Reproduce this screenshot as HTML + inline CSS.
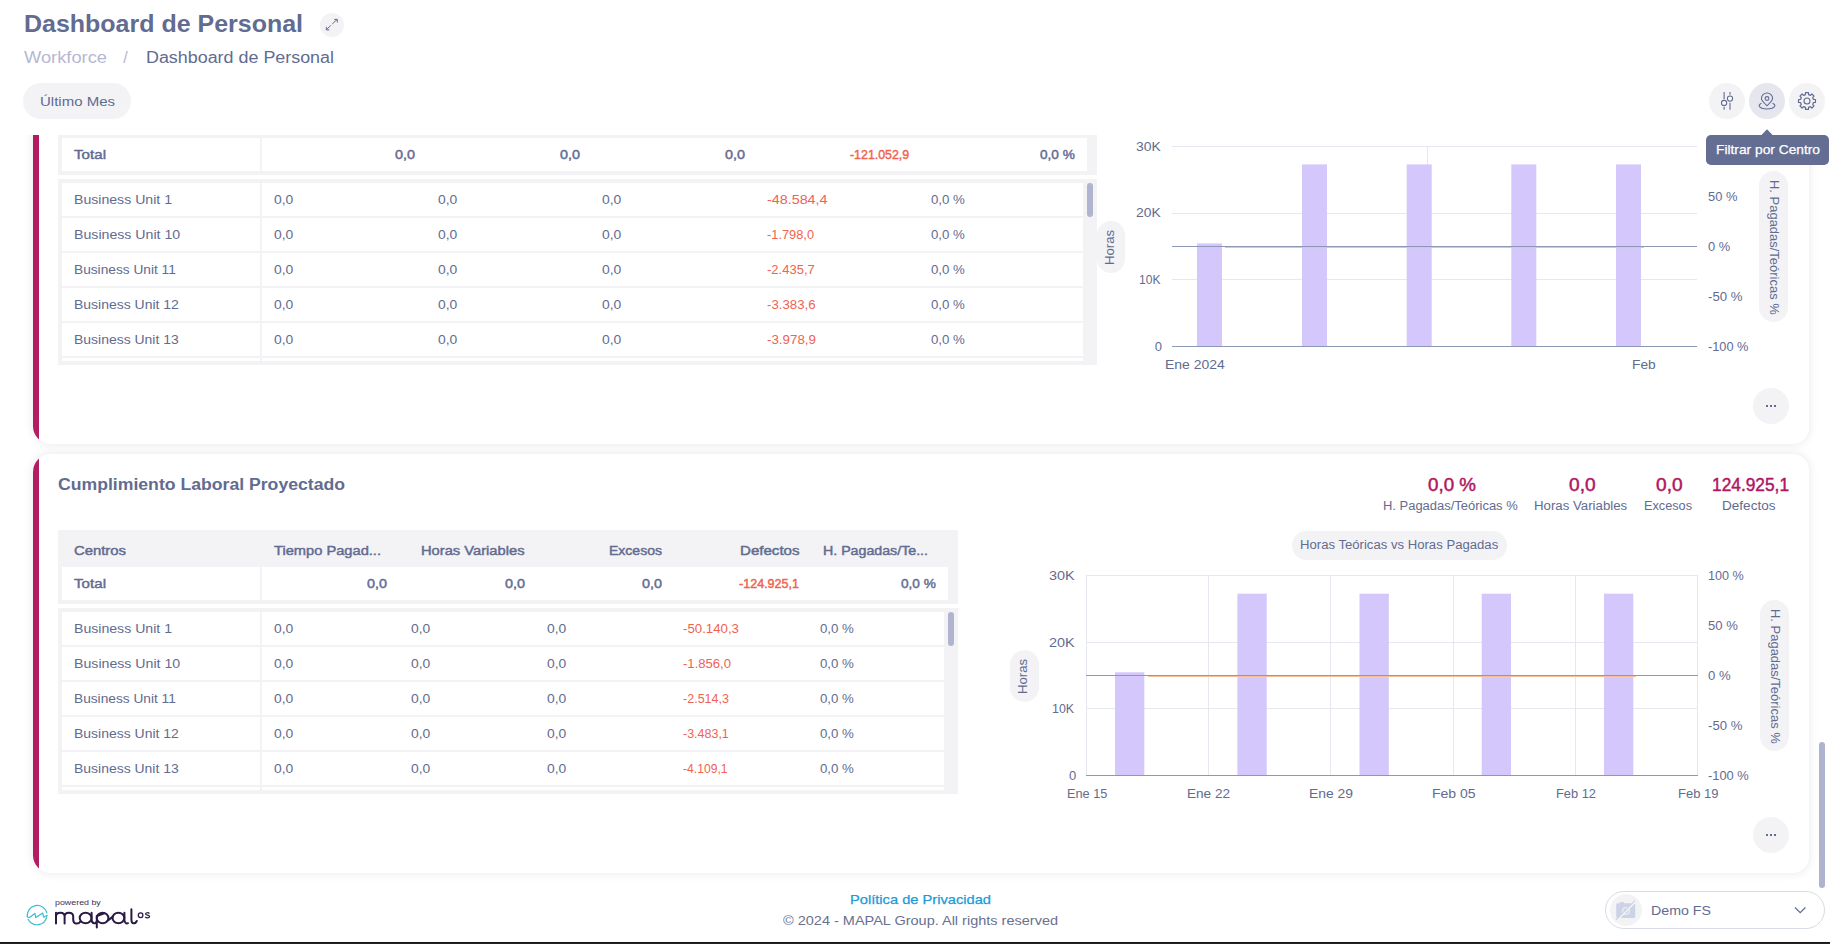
<!DOCTYPE html>
<html lang="es"><head><meta charset="utf-8"><title>Dashboard de Personal</title>
<style>

html,body{margin:0;padding:0;}
body{width:1830px;height:944px;overflow:hidden;position:relative;background:#fff;font-family:"Liberation Sans",sans-serif;color:#626b90;}
.t{position:absolute;white-space:pre;display:block;transform-origin:0 50%;}
.abs{position:absolute;}
.clip{position:absolute;left:0;top:135px;width:1830px;height:760px;overflow:hidden;}
.inner{position:absolute;left:0;top:-135px;width:1830px;height:944px;}
.card{position:absolute;left:33px;width:1776px;height:419px;background:#fff;border-radius:18px 16px 16px 18px;box-shadow:0 0 10px rgba(70,70,110,0.13);overflow:hidden;}
.card i{position:absolute;left:0;top:0;width:6px;height:100%;background:#b31b63;}
.g{position:absolute;background:#f3f3f6;}
.w{position:absolute;background:#fff;}
.pill{position:absolute;background:#f3f3f6;border-radius:20px;}
.circ{position:absolute;background:#f3f3f6;border-radius:50%;}
.thumb{position:absolute;background:#b1b4cf;border-radius:3px;}
svg{position:absolute;left:0;top:0;overflow:visible;}

</style></head><body>
<div class="clip"><div class="inner">
<div class="card" style="top:25px"><i></i></div>
<div class="card" style="top:454px"><i></i></div>
<div class="g" style="left:58px;top:101px;width:1039px;height:74px"></div>
<div class="w" style="left:62px;top:138px;width:198px;height:33px"></div>
<div class="w" style="left:262px;top:138px;width:825px;height:33px"></div>
<div class="g" style="left:58px;top:179px;width:1039px;height:186px"></div>
<div class="w" style="left:62px;top:183px;width:198px;height:33px"></div>
<div class="w" style="left:262px;top:183px;width:821px;height:33px"></div>
<div class="w" style="left:62px;top:218px;width:198px;height:33px"></div>
<div class="w" style="left:262px;top:218px;width:821px;height:33px"></div>
<div class="w" style="left:62px;top:253px;width:198px;height:33px"></div>
<div class="w" style="left:262px;top:253px;width:821px;height:33px"></div>
<div class="w" style="left:62px;top:288px;width:198px;height:33px"></div>
<div class="w" style="left:262px;top:288px;width:821px;height:33px"></div>
<div class="w" style="left:62px;top:323px;width:198px;height:33px"></div>
<div class="w" style="left:262px;top:323px;width:821px;height:33px"></div>
<div class="w" style="left:62px;top:358px;width:198px;height:3px"></div>
<div class="w" style="left:262px;top:358px;width:821px;height:3px"></div>
<div class="thumb" style="left:1087.2px;top:183px;width:6px;height:34px"></div>
<span class="t" style="left:74.20px;top:148.00px;font-size:13px;line-height:13px;-webkit-text-stroke:0.45px;letter-spacing:0.029px;transform:scaleX(1.1600);">Total</span>
<span class="t" style="left:395.30px;top:148.00px;font-size:13px;line-height:13px;-webkit-text-stroke:0.45px;transform:scaleX(1.1063);">0,0</span>
<span class="t" style="left:560.30px;top:148.00px;font-size:13px;line-height:13px;-webkit-text-stroke:0.45px;transform:scaleX(1.1063);">0,0</span>
<span class="t" style="left:725.30px;top:148.00px;font-size:13px;line-height:13px;-webkit-text-stroke:0.45px;transform:scaleX(1.1063);">0,0</span>
<span class="t" style="left:849.60px;top:148.00px;font-size:13px;line-height:13px;-webkit-text-stroke:0.45px;color:#ef6351;transform:scaleX(0.9522);">-121.052,9</span>
<span class="t" style="left:1039.80px;top:148.00px;font-size:13px;line-height:13px;-webkit-text-stroke:0.45px;transform:scaleX(1.0466);">0,0 %</span>
<span class="t" style="left:73.90px;top:193.00px;font-size:13px;line-height:13px;transform:scaleX(1.0849);">Business Unit 1</span>
<span class="t" style="left:274.30px;top:193.00px;font-size:13px;line-height:13px;transform:scaleX(1.0676);">0,0</span>
<span class="t" style="left:438.30px;top:193.00px;font-size:13px;line-height:13px;transform:scaleX(1.0676);">0,0</span>
<span class="t" style="left:602.40px;top:193.00px;font-size:13px;line-height:13px;transform:scaleX(1.0676);">0,0</span>
<span class="t" style="left:767.00px;top:193.00px;font-size:13px;line-height:13px;color:#ef6351;transform:scaleX(1.1013);">-48.584,4</span>
<span class="t" style="left:930.80px;top:193.00px;font-size:13px;line-height:13px;transform:scaleX(1.0195);">0,0 %</span>
<span class="t" style="left:73.90px;top:228.00px;font-size:13px;line-height:13px;transform:scaleX(1.0885);">Business Unit 10</span>
<span class="t" style="left:274.30px;top:228.00px;font-size:13px;line-height:13px;transform:scaleX(1.0676);">0,0</span>
<span class="t" style="left:438.30px;top:228.00px;font-size:13px;line-height:13px;transform:scaleX(1.0676);">0,0</span>
<span class="t" style="left:602.40px;top:228.00px;font-size:13px;line-height:13px;transform:scaleX(1.0676);">0,0</span>
<span class="t" style="left:767.00px;top:228.00px;font-size:13px;line-height:13px;color:#ef6351;transform:scaleX(0.9853);">-1.798,0</span>
<span class="t" style="left:930.80px;top:228.00px;font-size:13px;line-height:13px;transform:scaleX(1.0195);">0,0 %</span>
<span class="t" style="left:73.90px;top:263.00px;font-size:13px;line-height:13px;transform:scaleX(1.0539);">Business Unit 11</span>
<span class="t" style="left:274.30px;top:263.00px;font-size:13px;line-height:13px;transform:scaleX(1.0676);">0,0</span>
<span class="t" style="left:438.30px;top:263.00px;font-size:13px;line-height:13px;transform:scaleX(1.0676);">0,0</span>
<span class="t" style="left:602.40px;top:263.00px;font-size:13px;line-height:13px;transform:scaleX(1.0676);">0,0</span>
<span class="t" style="left:767.00px;top:263.00px;font-size:13px;line-height:13px;color:#ef6351;transform:scaleX(1.0020);">-2.435,7</span>
<span class="t" style="left:930.80px;top:263.00px;font-size:13px;line-height:13px;transform:scaleX(1.0195);">0,0 %</span>
<span class="t" style="left:73.90px;top:298.00px;font-size:13px;line-height:13px;transform:scaleX(1.0752);">Business Unit 12</span>
<span class="t" style="left:274.30px;top:298.00px;font-size:13px;line-height:13px;transform:scaleX(1.0676);">0,0</span>
<span class="t" style="left:438.30px;top:298.00px;font-size:13px;line-height:13px;transform:scaleX(1.0676);">0,0</span>
<span class="t" style="left:602.40px;top:298.00px;font-size:13px;line-height:13px;transform:scaleX(1.0676);">0,0</span>
<span class="t" style="left:767.00px;top:298.00px;font-size:13px;line-height:13px;color:#ef6351;transform:scaleX(1.0188);">-3.383,6</span>
<span class="t" style="left:930.80px;top:298.00px;font-size:13px;line-height:13px;transform:scaleX(1.0195);">0,0 %</span>
<span class="t" style="left:73.90px;top:333.00px;font-size:13px;line-height:13px;transform:scaleX(1.0732);">Business Unit 13</span>
<span class="t" style="left:274.30px;top:333.00px;font-size:13px;line-height:13px;transform:scaleX(1.0676);">0,0</span>
<span class="t" style="left:438.30px;top:333.00px;font-size:13px;line-height:13px;transform:scaleX(1.0676);">0,0</span>
<span class="t" style="left:602.40px;top:333.00px;font-size:13px;line-height:13px;transform:scaleX(1.0676);">0,0</span>
<span class="t" style="left:767.00px;top:333.00px;font-size:13px;line-height:13px;color:#ef6351;transform:scaleX(1.0272);">-3.978,9</span>
<span class="t" style="left:930.80px;top:333.00px;font-size:13px;line-height:13px;transform:scaleX(1.0195);">0,0 %</span>
<span class="t" style="left:58.30px;top:477.46px;font-size:16px;line-height:16px;font-weight:700;transform:scaleX(1.1018);">Cumplimiento Laboral Proyectado</span>
<span class="t" style="left:1427.90px;top:475.66px;font-size:18px;line-height:18px;-webkit-text-stroke:0.45px;color:#b0155f;transform:scaleX(1.0428);">0,0 %</span>
<span class="t" style="left:1382.75px;top:500.24px;font-size:12px;line-height:12px;transform:scaleX(1.0799);">H. Pagadas/Teóricas %</span>
<span class="t" style="left:1569.40px;top:475.66px;font-size:18px;line-height:18px;-webkit-text-stroke:0.45px;color:#b0155f;transform:scaleX(1.0627);">0,0</span>
<span class="t" style="left:1534.40px;top:500.24px;font-size:12px;line-height:12px;transform:scaleX(1.1032);">Horas Variables</span>
<span class="t" style="left:1656.40px;top:475.66px;font-size:18px;line-height:18px;-webkit-text-stroke:0.45px;color:#b0155f;transform:scaleX(1.0627);">0,0</span>
<span class="t" style="left:1644.00px;top:500.24px;font-size:12px;line-height:12px;transform:scaleX(1.0582);">Excesos</span>
<span class="t" style="left:1712.00px;top:475.66px;font-size:18px;line-height:18px;-webkit-text-stroke:0.45px;color:#b0155f;transform:scaleX(0.9616);">124.925,1</span>
<span class="t" style="left:1721.75px;top:500.24px;font-size:12px;line-height:12px;transform:scaleX(1.1297);">Defectos</span>
<div class="g" style="left:58px;top:530px;width:900px;height:74px"></div>
<div class="w" style="left:62px;top:567px;width:198px;height:33px"></div>
<div class="w" style="left:262px;top:567px;width:686px;height:33px"></div>
<div class="g" style="left:58px;top:608px;width:900px;height:186px"></div>
<div class="w" style="left:62px;top:612px;width:198px;height:33px"></div>
<div class="w" style="left:262px;top:612px;width:682px;height:33px"></div>
<div class="w" style="left:62px;top:647px;width:198px;height:33px"></div>
<div class="w" style="left:262px;top:647px;width:682px;height:33px"></div>
<div class="w" style="left:62px;top:682px;width:198px;height:33px"></div>
<div class="w" style="left:262px;top:682px;width:682px;height:33px"></div>
<div class="w" style="left:62px;top:717px;width:198px;height:33px"></div>
<div class="w" style="left:262px;top:717px;width:682px;height:33px"></div>
<div class="w" style="left:62px;top:752px;width:198px;height:33px"></div>
<div class="w" style="left:262px;top:752px;width:682px;height:33px"></div>
<div class="w" style="left:62px;top:787px;width:198px;height:3px"></div>
<div class="w" style="left:262px;top:787px;width:682px;height:3px"></div>
<div class="thumb" style="left:948.2px;top:612px;width:6px;height:34px"></div>
<span class="t" style="left:74.30px;top:543.60px;font-size:13px;line-height:13px;-webkit-text-stroke:0.45px;transform:scaleX(1.1421);">Centros</span>
<span class="t" style="left:274.30px;top:543.60px;font-size:13px;line-height:13px;-webkit-text-stroke:0.45px;transform:scaleX(1.1274);">Tiempo Pagad...</span>
<span class="t" style="left:421.00px;top:543.60px;font-size:13px;line-height:13px;-webkit-text-stroke:0.45px;transform:scaleX(1.1308);">Horas Variables</span>
<span class="t" style="left:608.50px;top:543.60px;font-size:13px;line-height:13px;-webkit-text-stroke:0.45px;transform:scaleX(1.0785);">Excesos</span>
<span class="t" style="left:739.50px;top:543.60px;font-size:13px;line-height:13px;-webkit-text-stroke:0.45px;transform:scaleX(1.1596);">Defectos</span>
<span class="t" style="left:823.00px;top:543.60px;font-size:13px;line-height:13px;-webkit-text-stroke:0.45px;transform:scaleX(1.0923);">H. Pagadas/Te...</span>
<span class="t" style="left:74.20px;top:577.00px;font-size:13px;line-height:13px;-webkit-text-stroke:0.45px;letter-spacing:0.029px;transform:scaleX(1.1600);">Total</span>
<span class="t" style="left:367.30px;top:577.00px;font-size:13px;line-height:13px;-webkit-text-stroke:0.45px;transform:scaleX(1.1063);">0,0</span>
<span class="t" style="left:504.50px;top:577.00px;font-size:13px;line-height:13px;-webkit-text-stroke:0.45px;transform:scaleX(1.1063);">0,0</span>
<span class="t" style="left:641.50px;top:577.00px;font-size:13px;line-height:13px;-webkit-text-stroke:0.45px;transform:scaleX(1.1063);">0,0</span>
<span class="t" style="left:738.60px;top:577.00px;font-size:13px;line-height:13px;-webkit-text-stroke:0.45px;color:#ef6351;transform:scaleX(0.9651);">-124.925,1</span>
<span class="t" style="left:901.20px;top:577.00px;font-size:13px;line-height:13px;-webkit-text-stroke:0.45px;transform:scaleX(1.0466);">0,0 %</span>
<span class="t" style="left:73.90px;top:622.00px;font-size:13px;line-height:13px;transform:scaleX(1.0849);">Business Unit 1</span>
<span class="t" style="left:274.30px;top:622.00px;font-size:13px;line-height:13px;transform:scaleX(1.0676);">0,0</span>
<span class="t" style="left:410.50px;top:622.00px;font-size:13px;line-height:13px;transform:scaleX(1.0676);">0,0</span>
<span class="t" style="left:547.00px;top:622.00px;font-size:13px;line-height:13px;transform:scaleX(1.0676);">0,0</span>
<span class="t" style="left:683.30px;top:622.00px;font-size:13px;line-height:13px;color:#ef6351;transform:scaleX(1.0193);">-50.140,3</span>
<span class="t" style="left:819.70px;top:622.00px;font-size:13px;line-height:13px;transform:scaleX(1.0195);">0,0 %</span>
<span class="t" style="left:73.90px;top:657.00px;font-size:13px;line-height:13px;transform:scaleX(1.0885);">Business Unit 10</span>
<span class="t" style="left:274.30px;top:657.00px;font-size:13px;line-height:13px;transform:scaleX(1.0676);">0,0</span>
<span class="t" style="left:410.50px;top:657.00px;font-size:13px;line-height:13px;transform:scaleX(1.0676);">0,0</span>
<span class="t" style="left:547.00px;top:657.00px;font-size:13px;line-height:13px;transform:scaleX(1.0676);">0,0</span>
<span class="t" style="left:683.30px;top:657.00px;font-size:13px;line-height:13px;color:#ef6351;transform:scaleX(1.0062);">-1.856,0</span>
<span class="t" style="left:819.70px;top:657.00px;font-size:13px;line-height:13px;transform:scaleX(1.0195);">0,0 %</span>
<span class="t" style="left:73.90px;top:692.00px;font-size:13px;line-height:13px;transform:scaleX(1.0539);">Business Unit 11</span>
<span class="t" style="left:274.30px;top:692.00px;font-size:13px;line-height:13px;transform:scaleX(1.0676);">0,0</span>
<span class="t" style="left:410.50px;top:692.00px;font-size:13px;line-height:13px;transform:scaleX(1.0676);">0,0</span>
<span class="t" style="left:547.00px;top:692.00px;font-size:13px;line-height:13px;transform:scaleX(1.0676);">0,0</span>
<span class="t" style="left:683.30px;top:692.00px;font-size:13px;line-height:13px;color:#ef6351;transform:scaleX(0.9643);">-2.514,3</span>
<span class="t" style="left:819.70px;top:692.00px;font-size:13px;line-height:13px;transform:scaleX(1.0195);">0,0 %</span>
<span class="t" style="left:73.90px;top:727.00px;font-size:13px;line-height:13px;transform:scaleX(1.0752);">Business Unit 12</span>
<span class="t" style="left:274.30px;top:727.00px;font-size:13px;line-height:13px;transform:scaleX(1.0676);">0,0</span>
<span class="t" style="left:410.50px;top:727.00px;font-size:13px;line-height:13px;transform:scaleX(1.0676);">0,0</span>
<span class="t" style="left:547.00px;top:727.00px;font-size:13px;line-height:13px;transform:scaleX(1.0676);">0,0</span>
<span class="t" style="left:683.30px;top:727.00px;font-size:13px;line-height:13px;color:#ef6351;transform:scaleX(0.9601);">-3.483,1</span>
<span class="t" style="left:819.70px;top:727.00px;font-size:13px;line-height:13px;transform:scaleX(1.0195);">0,0 %</span>
<span class="t" style="left:73.90px;top:762.00px;font-size:13px;line-height:13px;transform:scaleX(1.0732);">Business Unit 13</span>
<span class="t" style="left:274.30px;top:762.00px;font-size:13px;line-height:13px;transform:scaleX(1.0676);">0,0</span>
<span class="t" style="left:410.50px;top:762.00px;font-size:13px;line-height:13px;transform:scaleX(1.0676);">0,0</span>
<span class="t" style="left:547.00px;top:762.00px;font-size:13px;line-height:13px;transform:scaleX(1.0676);">0,0</span>
<span class="t" style="left:683.30px;top:762.00px;font-size:13px;line-height:13px;color:#ef6351;transform:scaleX(0.9349);">-4.109,1</span>
<span class="t" style="left:819.70px;top:762.00px;font-size:13px;line-height:13px;transform:scaleX(1.0195);">0,0 %</span>
<svg width="1830" height="944" viewBox="0 0 1830 944" shape-rendering="crispEdges">
<rect x="1172" y="146" width="525" height="1" fill="#e7e7ef"/>
<rect x="1172" y="213" width="525" height="1" fill="#e7e7ef"/>
<rect x="1172" y="279" width="525" height="1" fill="#e7e7ef"/>
<rect x="1427" y="146" width="1" height="200" fill="#e7e7ef"/>
<rect x="1197.0" y="243.4" width="25" height="102.6" fill="#d3c7fb" shape-rendering="geometricPrecision"/>
<rect x="1302.0" y="164.4" width="25" height="181.6" fill="#d3c7fb" shape-rendering="geometricPrecision"/>
<rect x="1406.7" y="164.4" width="25" height="181.6" fill="#d3c7fb" shape-rendering="geometricPrecision"/>
<rect x="1511.3" y="164.4" width="25" height="181.6" fill="#d3c7fb" shape-rendering="geometricPrecision"/>
<rect x="1616.0" y="164.4" width="25" height="181.6" fill="#d3c7fb" shape-rendering="geometricPrecision"/>
<rect x="1172" y="346" width="525" height="1" fill="#8e97b5"/>
<rect x="1172" y="246" width="525" height="1" fill="#8e97b5"/>
<rect x="1225" y="247" width="419" height="1" fill="#f5c09a"/>
<rect x="1086" y="575" width="612" height="1" fill="#e7e7ef"/>
<rect x="1086" y="642" width="612" height="1" fill="#e7e7ef"/>
<rect x="1086" y="708" width="612" height="1" fill="#e7e7ef"/>
<rect x="1086" y="575" width="1" height="200" fill="#e7e7ef"/>
<rect x="1208" y="575" width="1" height="200" fill="#e7e7ef"/>
<rect x="1330" y="575" width="1" height="200" fill="#e7e7ef"/>
<rect x="1453" y="575" width="1" height="200" fill="#e7e7ef"/>
<rect x="1575" y="575" width="1" height="200" fill="#e7e7ef"/>
<rect x="1697" y="575" width="1" height="200" fill="#e7e7ef"/>
<rect x="1115.0" y="672.3" width="29.3" height="102.7" fill="#d3c7fb" shape-rendering="geometricPrecision"/>
<rect x="1237.4" y="593.7" width="29.3" height="181.3" fill="#d3c7fb" shape-rendering="geometricPrecision"/>
<rect x="1359.5" y="593.7" width="29.3" height="181.3" fill="#d3c7fb" shape-rendering="geometricPrecision"/>
<rect x="1481.7" y="593.7" width="29.3" height="181.3" fill="#d3c7fb" shape-rendering="geometricPrecision"/>
<rect x="1604.0" y="593.7" width="29.3" height="181.3" fill="#d3c7fb" shape-rendering="geometricPrecision"/>
<rect x="1086" y="775" width="612" height="1" fill="#8e97b5"/>
<rect x="1086" y="675" width="612" height="1" fill="#8e97b5"/>
<rect x="1148" y="676" width="488" height="1" fill="#f5c09a"/>
</svg>
<span class="t" style="left:1135.80px;top:139.60px;font-size:13px;line-height:13px;transform:scaleX(1.0674);">30K</span>
<span class="t" style="left:1135.80px;top:206.30px;font-size:13px;line-height:13px;transform:scaleX(1.0674);">20K</span>
<span class="t" style="left:1139.00px;top:272.90px;font-size:13px;line-height:13px;transform:scaleX(0.9291);">10K</span>
<span class="t" style="left:1154.77px;top:339.60px;font-size:13px;line-height:13px;">0</span>
<span class="t" style="left:1707.50px;top:189.60px;font-size:13px;line-height:13px;transform:scaleX(0.9953);">50 %</span>
<span class="t" style="left:1707.50px;top:239.60px;font-size:13px;line-height:13px;transform:scaleX(0.9908);">0 %</span>
<span class="t" style="left:1707.50px;top:289.60px;font-size:13px;line-height:13px;transform:scaleX(1.0156);">-50 %</span>
<span class="t" style="left:1707.50px;top:339.60px;font-size:13px;line-height:13px;transform:scaleX(0.9829);">-100 %</span>
<span class="t" style="left:1707.50px;top:139.60px;font-size:13px;line-height:13px;transform:scaleX(0.9708);">100 %</span>
<span class="t" style="left:1165.20px;top:358.00px;font-size:13px;line-height:13px;transform:scaleX(1.0742);">Ene 2024</span>
<span class="t" style="left:1632.30px;top:358.00px;font-size:13px;line-height:13px;transform:scaleX(1.0577);">Feb</span>
<span class="t" style="left:1048.80px;top:569.10px;font-size:13px;line-height:13px;transform:scaleX(1.1106);">30K</span>
<span class="t" style="left:1048.80px;top:635.60px;font-size:13px;line-height:13px;transform:scaleX(1.1106);">20K</span>
<span class="t" style="left:1052.40px;top:702.20px;font-size:13px;line-height:13px;transform:scaleX(0.9550);">10K</span>
<span class="t" style="left:1069.07px;top:768.80px;font-size:13px;line-height:13px;">0</span>
<span class="t" style="left:1708.40px;top:569.10px;font-size:13px;line-height:13px;transform:scaleX(0.9708);">100 %</span>
<span class="t" style="left:1708.40px;top:619.00px;font-size:13px;line-height:13px;transform:scaleX(1.0054);">50 %</span>
<span class="t" style="left:1708.40px;top:668.90px;font-size:13px;line-height:13px;transform:scaleX(1.0086);">0 %</span>
<span class="t" style="left:1708.40px;top:718.80px;font-size:13px;line-height:13px;transform:scaleX(1.0127);">-50 %</span>
<span class="t" style="left:1708.40px;top:768.80px;font-size:13px;line-height:13px;transform:scaleX(0.9902);">-100 %</span>
<span class="t" style="left:1066.65px;top:786.60px;font-size:13px;line-height:13px;transform:scaleX(0.9781);">Ene 15</span>
<span class="t" style="left:1187.48px;top:786.60px;font-size:13px;line-height:13px;transform:scaleX(1.0436);">Ene 22</span>
<span class="t" style="left:1309.16px;top:786.60px;font-size:13px;line-height:13px;transform:scaleX(1.0679);">Ene 29</span>
<span class="t" style="left:1431.54px;top:786.60px;font-size:13px;line-height:13px;transform:scaleX(1.0770);">Feb 05</span>
<span class="t" style="left:1555.52px;top:786.60px;font-size:13px;line-height:13px;transform:scaleX(0.9880);">Feb 12</span>
<span class="t" style="left:1677.50px;top:786.60px;font-size:13px;line-height:13px;transform:scaleX(0.9979);">Feb 19</span>
<div class="pill" style="left:1292px;top:531px;width:215px;height:29px"></div>
<span class="t" style="left:1300.40px;top:538.72px;font-size:12.5px;line-height:12.5px;transform:scaleX(1.0501);">Horas Teóricas vs Horas Pagadas</span>
<div class="pill" style="left:1097.0px;top:221.0px;width:28.0px;height:52.0px"></div>
<div class="abs" style="left:1111.00px;top:247.00px;width:0;height:0;transform:rotate(-90deg)">
<span class="t" style="left:-17.60px;top:-6.98px;font-size:12.5px;line-height:12.5px;transform:scaleX(1.0557);">Horas</span>
</div>
<div class="pill" style="left:1759.0px;top:171.0px;width:28.7px;height:151.0px"></div>
<div class="abs" style="left:1773.35px;top:246.50px;width:0;height:0;transform:rotate(90deg)">
<span class="t" style="left:-67.40px;top:-6.98px;font-size:12.5px;line-height:12.5px;transform:scaleX(1.0374);">H. Pagadas/Teóricas %</span>
</div>
<div class="pill" style="left:1010.0px;top:650.0px;width:28.7px;height:52.0px"></div>
<div class="abs" style="left:1024.35px;top:676.00px;width:0;height:0;transform:rotate(-90deg)">
<span class="t" style="left:-17.60px;top:-6.58px;font-size:12.5px;line-height:12.5px;transform:scaleX(1.0557);">Horas</span>
</div>
<div class="pill" style="left:1760.0px;top:600.0px;width:28.7px;height:151.0px"></div>
<div class="abs" style="left:1774.35px;top:675.50px;width:0;height:0;transform:rotate(90deg)">
<span class="t" style="left:-67.40px;top:-7.08px;font-size:12.5px;line-height:12.5px;transform:scaleX(1.0374);">H. Pagadas/Teóricas %</span>
</div>
<div class="circ" style="left:1753px;top:388px;width:36px;height:36px"></div>
<svg width="1830" height="944" shape-rendering="crispEdges"><g fill="#626b90"><rect x="1766" y="405" width="2" height="2"/><rect x="1770" y="405" width="2" height="2"/><rect x="1774" y="405" width="2" height="2"/></g></svg>
<div class="circ" style="left:1753px;top:817px;width:36px;height:36px"></div>
<svg width="1830" height="944" shape-rendering="crispEdges"><g fill="#626b90"><rect x="1766" y="834" width="2" height="2"/><rect x="1770" y="834" width="2" height="2"/><rect x="1774" y="834" width="2" height="2"/></g></svg>
</div></div>
<span class="t" style="left:23.80px;top:12.18px;font-size:24px;line-height:24px;font-weight:700;transform:scaleX(1.0407);">Dashboard de Personal</span>
<div class="circ" style="left:320px;top:13px;width:24px;height:24px;background:#f3f3f6"></div>
<svg width="1830" height="944"><g stroke="#626b90" stroke-width="1" fill="none"><path d="M326.4 29.8 L330.9 25.3 M332.3 23.9 L337.2 19.4 M334.2 19.4 H337.3 V22.5 M326.3 26.8 V29.9 H329.4"/></g></svg>
<span class="t" style="left:23.80px;top:50.46px;font-size:16px;line-height:16px;color:#b5b8d0;transform:scaleX(1.1431);">Workforce</span>
<span class="t" style="left:123.30px;top:50.46px;font-size:16px;line-height:16px;color:#b5b8d0;">/</span>
<span class="t" style="left:146.00px;top:50.46px;font-size:16px;line-height:16px;transform:scaleX(1.1183);">Dashboard de Personal</span>
<div class="pill" style="left:23px;top:83px;width:108px;height:36px"></div>
<span class="t" style="left:39.50px;top:94.80px;font-size:13px;line-height:13px;transform:scaleX(1.1536);">Último Mes</span>
<div class="circ" style="left:1709px;top:83px;width:36px;height:36px"></div>
<div class="circ" style="left:1749px;top:83px;width:36px;height:36px;background:#e6e6ee"></div>
<div class="circ" style="left:1789px;top:83px;width:36px;height:36px"></div>
<svg width="1830" height="944"><g stroke="#626b90" stroke-width="1.1" fill="none">
<path d="M1724.1 92 V99.2 M1724.1 107 V109.8 M1730 92 V94.7 M1730 102.8 V109.8"/>
<circle cx="1724.1" cy="103" r="2.6" fill="#fdfdfe"/><circle cx="1730" cy="98.6" r="2.6" fill="#fdfdfe"/>
<path d="M1767 105.7 C1763.6 102.7 1761.4 100.8 1761.4 98.6 A5.6 5.6 0 0 1 1772.6 98.6 C1772.6 100.8 1770.4 102.7 1767 105.7 Z"/>
<circle cx="1767" cy="98.5" r="1.9"/>
<path d="M1761.5 103.2 C1756.5 105.5 1760 109 1767 109 C1774 109 1777.5 105.5 1772.5 103.2"/>
<circle cx="1807" cy="101" r="3"/>
</g></svg>
<svg width="1830" height="944"><path d="M1805.52 92.53 L1808.48 92.53 L1808.54 94.58 L1810.45 95.37 L1811.95 93.96 L1814.04 96.05 L1812.63 97.55 L1813.42 99.46 L1815.47 99.52 L1815.47 102.48 L1813.42 102.54 L1812.63 104.45 L1814.04 105.95 L1811.95 108.04 L1810.45 106.63 L1808.54 107.42 L1808.48 109.47 L1805.52 109.47 L1805.46 107.42 L1803.55 106.63 L1802.05 108.04 L1799.96 105.95 L1801.37 104.45 L1800.58 102.54 L1798.53 102.48 L1798.53 99.52 L1800.58 99.46 L1801.37 97.55 L1799.96 96.05 L1802.05 93.96 L1803.55 95.37 L1805.46 94.58 Z" stroke="#626b90" stroke-width="1.2" fill="none" stroke-linejoin="round"/></svg>
<div class="abs" style="left:1706px;top:135px;width:123px;height:30px;border-radius:5px;background:#646d92"></div>
<svg width="1830" height="944"><path d="M1761 135.5 L1767 129.2 L1773 135.5 Z" fill="#646d92"/></svg>
<span class="t" style="left:1715.60px;top:143.00px;font-size:13px;line-height:13px;-webkit-text-stroke:0.25px;color:#fff;transform:scaleX(1.0585);">Filtrar por Centro</span>
<span class="t" style="left:850.40px;top:893.10px;font-size:13px;line-height:13px;-webkit-text-stroke:0.25px;color:#1a9bd7;transform:scaleX(1.1279);">Política de Privacidad</span>
<span class="t" style="left:783.00px;top:914.00px;font-size:13px;line-height:13px;color:#687090;transform:scaleX(1.1153);">© 2024 - MAPAL Group. All rights reserved</span>
<div class="abs" style="left:1605px;top:891px;width:218px;height:36px;border:1px solid #d9dbe8;border-radius:19px"></div>
<div class="circ" style="left:1610px;top:894px;width:32px;height:32px;background:#f3f3f6"></div>
<svg width="1830" height="944">
<path d="M1617.7 903.3 H1619.6 L1620.2 902.1 H1623.6 L1624.2 903.3 H1633.7 Q1635.2 903.3 1635.2 904.8 V916.6 Q1635.2 918.1 1633.7 918.1 H1617.7 Q1616.2 918.1 1616.2 916.6 V904.8 Q1616.2 903.3 1617.7 903.3 Z" fill="#cdd3e6"/>
<circle cx="1626" cy="911" r="3.3" fill="none" stroke="#eceef6" stroke-width="1.3"/>
<path d="M1616.9 920.6 L1636.3 900.9" stroke="#f3f3f7" stroke-width="1.6"/>
<path d="M1616 919.8 L1635.2 900.3" stroke="#cdd3e6" stroke-width="1.1"/>
</svg>
<span class="t" style="left:1650.60px;top:904.20px;font-size:13px;line-height:13px;transform:scaleX(1.0928);">Demo FS</span>
<svg width="1830" height="944"><path d="M1795 907.5 L1800.2 912.7 L1805.4 907.5" stroke="#626b90" stroke-width="1.2" fill="none"/></svg>
<div class="abs" style="left:1819px;top:742px;width:6px;height:146px;border-radius:3px;background:#b0b3cf"></div>
<div class="abs" style="left:0;top:942px;width:1830px;height:1px;background:#181514"></div>
<div class="abs" style="left:0;top:943px;width:1830px;height:1px;background:#282322"></div>
<svg width="1830" height="944"><g fill="none" stroke="#3bbdd0" stroke-width="1.2" stroke-linecap="round" stroke-linejoin="round">
<path d="M27.3 916.6 A10 10 0 0 1 46.9 912.9"/>
<path d="M27.3 916.6 Q28.2 917.8 29.8 917.2 L34.9 913.4 L35.8 917.6 L42.7 913 L43.6 917.2 L47.3 915.3"/>
<path d="M28.1 919.3 A10 10 0 0 0 46.8 916.6"/>
</g>
<g fill="none" stroke="#2b1a45" stroke-width="2" stroke-linecap="round" stroke-linejoin="round">
<path d="M56 923.4 V912.8 M56 916.6 C56 911.6 64.6 911.6 64.6 916.6 V923.4 M64.6 916.6 C64.6 911.6 73.2 911.6 73.2 916.6 V919.6 C73.2 924.6 78.4 924.4 80.4 921.6"/>
<path d="M91.6 912.8 V919.2 C91.6 924.4 96 924.2 96.8 921.2"/>
<ellipse cx="85.6" cy="918" rx="5.9" ry="5.3"/>
<path d="M96.8 927.6 V916 L104.4 913.4"/>
<ellipse cx="102.6" cy="918" rx="5.8" ry="5.3"/>
<ellipse cx="118.4" cy="918" rx="5.9" ry="5.3"/>
<path d="M107.6 920.6 L113 916.6"/>
<path d="M124.4 912.8 V919.2 C124.4 923.4 126.6 923.8 128 923.2"/>
<path d="M131.4 909.2 V919.4 C131.4 924.4 135.4 924.2 136.8 921"/>
</g>
<g fill="none" stroke="#2b1a45" stroke-width="1.25">
<ellipse cx="140.6" cy="915.2" rx="2.3" ry="2.4"/>
<path d="M149.4 913.6 C148.6 912.4 145.6 912.4 145.6 914 C145.6 915.6 149.6 914.8 149.6 916.6 C149.6 918.2 146.2 918.2 145.2 916.8"/>
</g></svg>
<span class="t" style="left:55.00px;top:899.03px;font-size:8px;line-height:8px;color:#3d2e55;transform:scaleX(1.1074);">powered by</span>
</body></html>
